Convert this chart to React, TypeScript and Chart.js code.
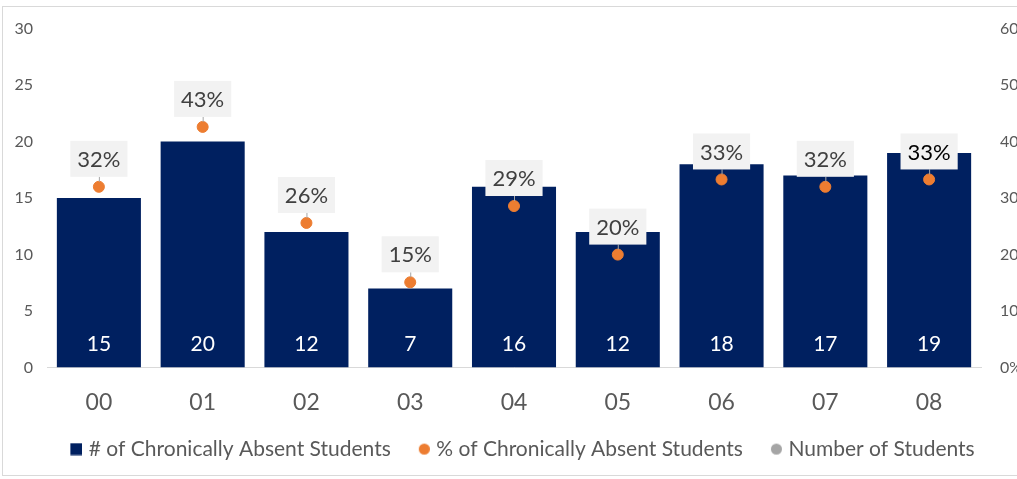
import React, { useEffect, useRef } from 'react';
import { Chart, registerables } from 'chart.js';

Chart.register(...registerables);

const categories = ['00', '01', '02', '03', '04', '05', '06', '07', '08'];
const absentCounts = [15, 20, 12, 7, 16, 12, 18, 17, 19];
const absentPct = [0.32, 0.426, 0.256, 0.151, 0.286, 0.2, 0.333, 0.32, 0.333];
const studentCounts: (number | null)[] = [];
const countTicks = [0, 5, 10, 15, 20, 25, 30];

const FONT = 'Lato, "Open Sans", sans-serif';
const NAVY = '#002060';
const ORANGE = '#ED7D31';
const GRAY = '#A5A5A5';

// legend marker image: transparent lead-in, marker drawn at the right end
function makeMarker(shape: 'square' | 'circle', color: string, size: number) {
  const W = 21;
  const H = 13;
  const c = document.createElement('canvas');
  c.width = W;
  c.height = H;
  const g = c.getContext('2d')!;
  g.fillStyle = color;
  const left = W - size;
  const top = (H - size) / 2;
  if (shape === 'square') g.fillRect(left, top, size, size);
  else {
    g.beginPath();
    g.arc(left + size / 2, H / 2, size / 2, 0, Math.PI * 2);
    g.fill();
  }
  return c;
}

const frameAndLabels = {
  id: 'frameAndLabels',
  beforeDraw(chart: any) {
    const ctx = chart.ctx;
    ctx.save();
    ctx.fillStyle = '#ffffff';
    ctx.fillRect(0, 0, chart.width, chart.height);
    ctx.strokeStyle = '#d9d9d9';
    ctx.lineWidth = 1;
    ctx.strokeRect(2.5, 6.5, chart.width + 20, 469);
    ctx.restore();
  },
  afterDatasetsDraw(chart: any) {
    const ctx = chart.ctx;
    ctx.save();
    ctx.textAlign = 'center';
    ctx.textBaseline = 'middle';
    const base = chart.scales.y.getPixelForValue(0);
    ctx.font = `21px ${FONT}`;
    ctx.fillStyle = '#ffffff';
    chart.getDatasetMeta(0).data.forEach((el: any, i: number) => {
      ctx.fillText(String(absentCounts[i]), el.x, base - 23);
    });
    ctx.font = `22px ${FONT}`;
    chart.getDatasetMeta(1).data.forEach((el: any, i: number) => {
      const txt = Math.round(absentPct[i] * 100) + '%';
      const w = ctx.measureText(txt).width + 14;
      const h = 36;
      const bottom = el.y - 10;
      ctx.strokeStyle = '#a6a6a6';
      ctx.lineWidth = 1;
      ctx.beginPath();
      ctx.moveTo(el.x + 0.5, bottom);
      ctx.lineTo(el.x + 0.5, el.y - 5);
      ctx.stroke();
      ctx.fillStyle = '#f2f2f2';
      ctx.fillRect(el.x - w / 2, bottom - h, w, h);
      ctx.fillStyle = i === 8 ? '#000000' : '#404040';
      ctx.fillText(txt, el.x, bottom - h / 2 + 1);
    });
    ctx.restore();
  },
};

export default function App() {
  const ref = useRef<HTMLCanvasElement>(null);
  useEffect(() => {
    document.body.style.margin = '0';
    document.body.style.overflow = 'hidden';
    const markers = [
      makeMarker('square', NAVY, 12),
      makeMarker('circle', ORANGE, 11),
      makeMarker('circle', GRAY, 11),
    ];
    const chart = new Chart(ref.current!, {
      type: 'bar',
      data: {
        labels: categories,
        datasets: [
          {
            type: 'bar',
            label: '# of Chronically Absent Students',
            data: absentCounts,
            backgroundColor: NAVY,
            barPercentage: 0.81,
            categoryPercentage: 1,
            yAxisID: 'y',
            order: 3,
          } as any,
          {
            type: 'line',
            label: '% of Chronically Absent Students',
            data: absentPct,
            showLine: false,
            pointRadius: 5.5,
            pointBackgroundColor: ORANGE,
            pointBorderColor: ORANGE,
            backgroundColor: ORANGE,
            borderColor: ORANGE,
            yAxisID: 'y1',
            order: 1,
          },
          {
            type: 'line',
            label: 'Number of Students',
            data: studentCounts,
            showLine: false,
            pointRadius: 5.5,
            backgroundColor: GRAY,
            borderColor: GRAY,
            yAxisID: 'y1',
            order: 0,
          },
        ],
      },
      options: {
        animation: false,
        responsive: false,
        layout: { padding: { top: 25, left: 0, right: 0, bottom: 9.4 } },
        plugins: {
          tooltip: { enabled: false },
          legend: {
            position: 'bottom',
            labels: {
              usePointStyle: true,
              pointStyleWidth: 13,
              boxWidth: 13,
              boxHeight: 12,
              padding: 22,
              color: '#595959',
              font: { family: FONT, size: 21 },
              sort: (a: any, b: any) => a.datasetIndex - b.datasetIndex,
              generateLabels: (c: any) => {
                const items = Chart.defaults.plugins.legend.labels.generateLabels(c);
                return items.map((it: any) => ({ ...it, pointStyle: markers[it.datasetIndex] }));
              },
            },
          },
        },
        scales: {
          x: {
            grid: { display: false, drawTicks: false },
            border: { display: true, color: '#d9d9d9' },
            ticks: { color: '#595959', font: { family: FONT, size: 23 }, padding: 21 },
            afterFit: (s: any) => {
              s.height = 49;
            },
          },
          y: {
            position: 'left',
            min: 0,
            max: 30,
            grid: { display: false, drawTicks: false },
            border: { display: false },
            afterBuildTicks: (s: any) => {
              s.ticks = countTicks.map((v) => ({ value: v }));
            },
            ticks: { color: '#595959', font: { family: FONT, size: 16 }, padding: 14 },
            afterFit: (s: any) => {
              s.width = 47;
            },
          },
          y1: {
            position: 'right',
            min: 0,
            max: 0.6,
            grid: { display: false, drawTicks: false },
            border: { display: false },
            ticks: {
              stepSize: 0.1,
              color: '#595959',
              font: { family: FONT, size: 16 },
              padding: 19,
              callback: (v: any) => Math.round(Number(v) * 100) + '%',
            },
            afterFit: (s: any) => {
              s.width = 59;
            },
          },
        },
      },
      plugins: [frameAndLabels],
    });
    return () => chart.destroy();
  }, []);
  return (
    <div style={{ width: 1017, height: 479, overflow: 'hidden', position: 'relative' }}>
      <canvas ref={ref} width={1040} height={479} style={{ display: 'block' }} />
    </div>
  );
}
